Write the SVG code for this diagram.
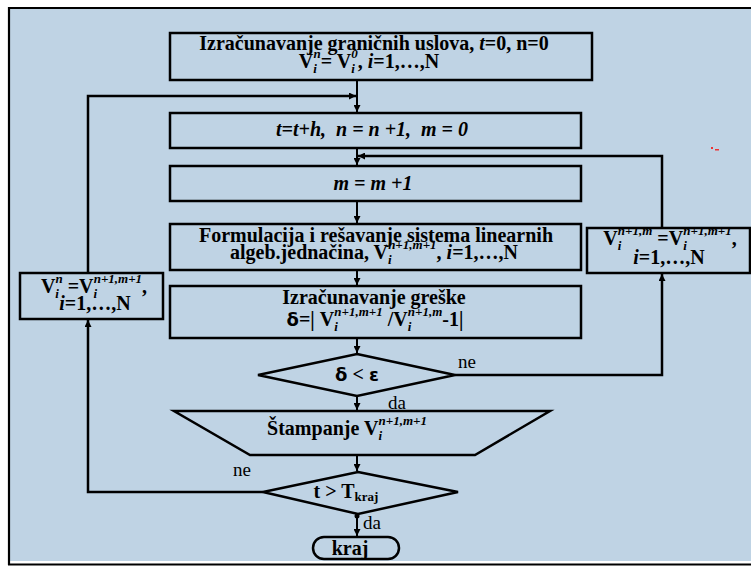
<svg xmlns="http://www.w3.org/2000/svg" width="751" height="566" viewBox="0 0 751 566">
<defs>
<marker id="ah" viewBox="0 0 10 10" refX="10" refY="5" markerWidth="7" markerHeight="7" markerUnits="userSpaceOnUse" orient="auto">
<path d="M0,0 L10,5 L0,10 z" fill="#000"/>
</marker>
<style>
.n{fill:none;stroke:#000;stroke-width:2.5}
.c{fill:none;stroke:#000;stroke-width:2}
.lp{fill:none;stroke:#000;stroke-width:2.5}
text{font-family:"Liberation Serif","Times New Roman",serif;font-weight:bold;font-size:20px;fill:#000}
.it{font-style:italic}
.s{font-size:13px;font-style:italic}
.lb{font-weight:normal;font-size:19px}
.g{font-family:"DejaVu Sans",sans-serif;font-size:18px}
</style>
</defs>
<rect x="0" y="0" width="751" height="566" fill="#fff"/>
<rect x="10" y="9" width="741" height="552" fill="#bfd3e4"/>
<line x1="8" y1="8" x2="751" y2="8" stroke="#000" stroke-width="2"/>
<line x1="9" y1="7" x2="9" y2="565" stroke="#000" stroke-width="2.2"/>
<line x1="8" y1="564.5" x2="751" y2="564.5" stroke="#000" stroke-width="2"/>
<rect x="711" y="147" width="2" height="2" fill="#e33"/>
<rect x="715" y="149" width="4" height="1.5" fill="#e33"/>

<g id="connectors">
<line class="c" x1="357" y1="81" x2="357" y2="112" marker-end="url(#ah)"/>
<path class="lp" d="M88,273 V96 H356" marker-end="url(#ah)"/>
<line class="c" x1="357" y1="148" x2="357" y2="165" marker-end="url(#ah)"/>
<path class="lp" d="M662,228 V156 H358" marker-end="url(#ah)"/>
<line class="c" x1="357" y1="201" x2="357" y2="223" marker-end="url(#ah)"/>
<line class="c" x1="357" y1="270" x2="357" y2="285" marker-end="url(#ah)"/>
<line class="c" x1="357" y1="338" x2="357" y2="353" marker-end="url(#ah)"/>
<path class="lp" d="M455,375 H662 V274" marker-end="url(#ah)"/>
<line class="c" x1="357" y1="396" x2="357" y2="410" marker-end="url(#ah)"/>
<line class="c" x1="357" y1="455" x2="357" y2="471" marker-end="url(#ah)"/>
<path class="lp" d="M263,492 H88 V320" marker-end="url(#ah)"/>
<line class="c" x1="357" y1="514" x2="357" y2="536" marker-end="url(#ah)"/>
<circle cx="357" cy="516" r="2.5" fill="#000"/>
<text class="lb" x="458" y="368">ne</text>
<text class="lb" x="388" y="409">da</text>
<text class="lb" x="233" y="476">ne</text>
<text class="lb" x="363" y="529">da</text>
</g>

<g id="box1">
<rect class="n" x="170" y="33" width="422" height="47" fill="none"/>
<text x="374" y="50" text-anchor="middle">Izračunavanje graničnih uslova, <tspan class="it">t</tspan>=0, n=0</text>
<text x="369" y="68" text-anchor="middle">V<tspan class="s" dy="5">i</tspan><tspan class="s" dx="-3.5" dy="-15">n</tspan><tspan dy="10">= V</tspan><tspan class="s" dy="5">i</tspan><tspan class="s" dx="-3.5" dy="-15" font-style="normal">0</tspan><tspan dy="10">, </tspan><tspan class="it">i</tspan>=1,…,N</text>
</g>

<g id="box2">
<rect class="n" x="170" y="113" width="411" height="35" fill="none"/>
<text class="it" x="372" y="136" text-anchor="middle" xml:space="preserve">t=t+h,  n = n +1,  m = 0</text>
</g>

<g id="box3">
<rect class="n" x="170" y="166" width="411" height="35" fill="none"/>
<text class="it" x="373" y="190" text-anchor="middle">m = m +1</text>
</g>

<g id="box4">
<rect class="n" x="170" y="224" width="411" height="46" fill="none"/>
<text x="376" y="242" text-anchor="middle">Formulacija i rešavanje sistema linearnih</text>
<text x="374" y="259" text-anchor="middle">algeb.jednačina, V<tspan class="s" dy="5">i</tspan><tspan class="s" dx="-3.5" dy="-15">n+1,m+1</tspan><tspan dy="10">, </tspan><tspan class="it">i</tspan>=1,…,N</text>
</g>

<g id="box5">
<rect class="n" x="170" y="286" width="411" height="52" fill="none"/>
<text x="374" y="304" text-anchor="middle">Izračunavanje greške</text>
<text x="375" y="326" text-anchor="middle"><tspan class="g">δ</tspan>=| V<tspan class="s" dy="5">i</tspan><tspan class="s" dx="-3.5" dy="-15">n+1,m+1</tspan><tspan dy="10"> /V</tspan><tspan class="s" dy="5">i</tspan><tspan class="s" dx="-3.5" dy="-15">n+1,m</tspan><tspan dy="10">-1|</tspan></text>
</g>

<g id="decision1">
<polygon class="n" points="357,354 455,375 357,396 258,375" fill="none"/>
<text x="357" y="381" text-anchor="middle"><tspan class="g">δ</tspan> &lt; <tspan class="g">ε</tspan></text>
</g>

<g id="print">
<polygon class="n" points="174,411 550,411 475,455 250,455" fill="none"/>
<text x="347" y="435" text-anchor="middle">Štampanje V<tspan class="s" dy="5">i</tspan><tspan class="s" dx="-3.5" dy="-15">n+1,m+1</tspan></text>
</g>

<g id="decision2">
<polygon class="n" points="358,472 458,492 358,514 263,492" fill="none"/>
<text x="346" y="498" text-anchor="middle">t &gt; T<tspan font-size="13" dy="3">kraj</tspan></text>
</g>

<g id="end">
<rect class="n" x="313" y="537" width="86" height="22" rx="11" fill="none"/>
<text x="350" y="555" text-anchor="middle">kraj</text>
</g>

<g id="leftbox">
<rect class="n" x="20" y="273" width="143" height="46" fill="none"/>
<text x="94" y="293" text-anchor="middle">V<tspan class="s" dy="5">i</tspan><tspan class="s" dx="-3.5" dy="-15">n</tspan><tspan dy="10"> =V</tspan><tspan class="s" dy="5">i</tspan><tspan class="s" dx="-3.5" dy="-15">n+1,m+1</tspan><tspan dy="10">,</tspan></text>
<text x="95" y="310" text-anchor="middle"><tspan class="it">i</tspan>=1,…,N</text>
</g>

<g id="rightbox">
<rect class="n" x="587" y="228" width="163" height="45" fill="none"/>
<text x="670" y="245" text-anchor="middle">V<tspan class="s" dy="5">i</tspan><tspan class="s" dx="-3.5" dy="-15">n+1,m</tspan><tspan dy="10"> =V</tspan><tspan class="s" dy="5">i</tspan><tspan class="s" dx="-3.5" dy="-15">n+1,m+1</tspan><tspan dy="10">,</tspan></text>
<text x="669" y="264" text-anchor="middle"><tspan class="it">i</tspan>=1,…,N</text>
</g>
</svg>
